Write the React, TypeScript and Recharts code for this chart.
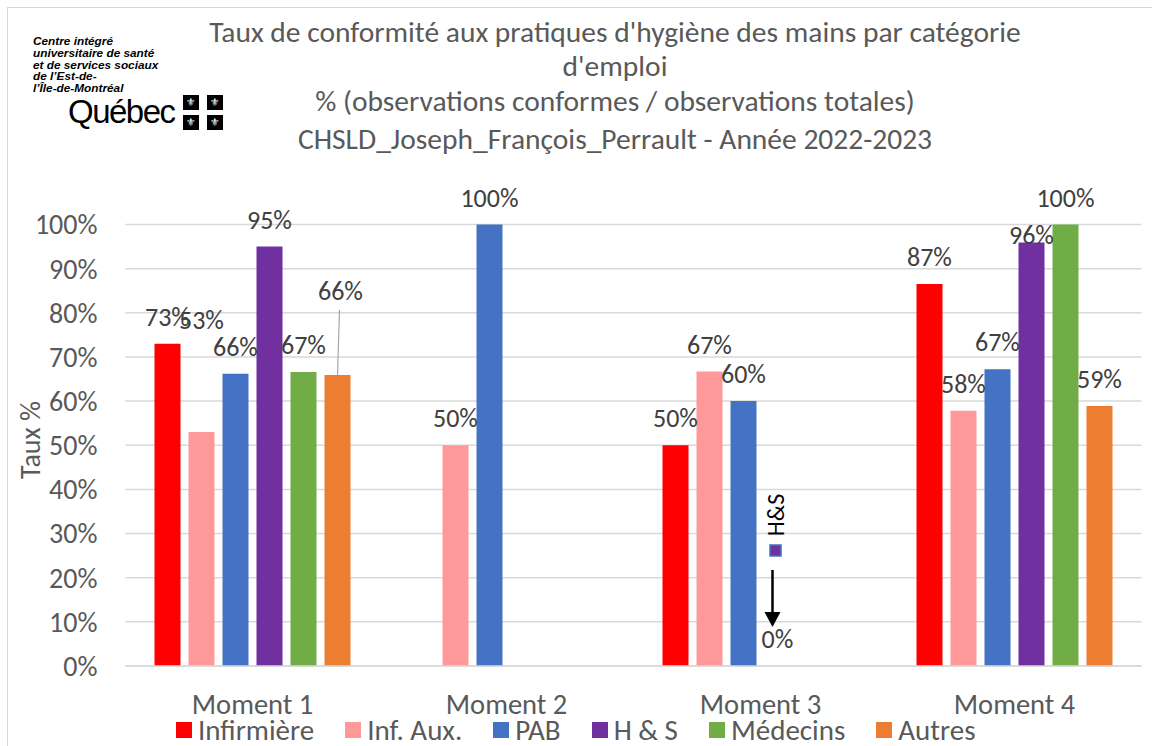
import React from "react";
import {
  Bar,
  BarChart,
  CartesianGrid,
  LabelList,
  Legend,
  XAxis,
  YAxis,
} from "recharts";

const moments = ["Moment 1", "Moment 2", "Moment 3", "Moment 4"];
const infirmiere = [73.0, null, 50.0, 86.5];
const infAux = [53.0, 50.0, 66.7, 57.8];
const pab = [66.2, 100, 60.0, 67.2];
const hs = [95.0, null, 0, 95.9];
const medecins = [66.6, null, null, 100];
const autres = [65.9, null, null, 58.9];
const yTicks = [0, 10, 20, 30, 40, 50, 60, 70, 80, 90, 100];

const titleLines = [
  "Taux de conformité aux pratiques d'hygiène des mains par catégorie",
  "d'emploi",
  "% (observations conformes / observations totales)",
  "CHSLD_Joseph_François_Perrault - Année 2022-2023",
];
const logoLines = [
  "Centre intégré",
  "universitaire de santé",
  "et de services sociaux",
  "de l’Est-de-",
  "l’Île-de-Montréal",
];

const series = [
  { key: "inf", name: "Infirmière", values: infirmiere, color: "#ff0000" },
  { key: "aux", name: "Inf. Aux.", values: infAux, color: "#ff9999" },
  { key: "pab", name: "PAB", values: pab, color: "#4472c4" },
  { key: "hs", name: "H & S", values: hs, color: "#7030a0" },
  { key: "med", name: "Médecins", values: medecins, color: "#70ad47" },
  { key: "aut", name: "Autres", values: autres, color: "#ed7d31" },
];

const data = moments.map((m, i) => {
  const row: Record<string, any> = { moment: m };
  series.forEach((s) => (row[s.key] = s.values[i]));
  return row;
});

// labels Excel moved by hand (dx, dy from default spot), keyed by moment
const nudges: Record<string, Record<string, [number, number]>> = {
  aux: { "Moment 1": [0, -85] },
  aut: { "Moment 1": [3, -57] },
  hs: { "Moment 4": [0, 19] },
};

const FONT = "Carlito, Calibri, Lato, sans-serif";

function makeLabel(key: string) {
  const shown = moments.filter((_, i) => series.find((s) => s.key === key)!.values[i] != null);
  return (props: any) => {
    const { x, y, width, value, index } = props;
    if (value == null) return null;
    const v = typeof value === "object" ? value.v : value;
    if (v == null) return null;
    const m =
      (typeof value === "object" && value.m) ||
      props.payload?.moment ||
      shown[index] ||
      "";
    const [dx, dy] = nudges[key]?.[m] ?? [0, 0];
    const cx = Number(x) + Number(width) / 2;
    const cy = Number(y) - 27 + dy;
    const text = (
      <text
        x={cx + dx}
        y={cy + 9}
        textAnchor="middle"
        fontSize={26}
        fill="#404040"
        fontFamily={FONT}
      >
        {`${Math.round(Number(v))}%`}
      </text>
    );
    if (key === "aut" && m === "Moment 1") {
      return (
        <g>
          <line x1={cx + 2} y1={cy + 19} x2={cx} y2={Number(y)} stroke="#a6a6a6" strokeWidth={1.2} />
          {text}
        </g>
      );
    }
    if (key === "hs" && Number(v) === 0) {
      // the little H&S marker + arrow Excel had pointing at the empty bar
      const base = Number(y);
      return (
        <g>
          {text}
          <rect x={cx - 7.5} y={base - 121} width={11} height={11} fill="#7030a0" stroke="#4472c4" strokeWidth={1.5} />
          <line x1={cx - 5} y1={base - 96} x2={cx - 5} y2={base - 52} stroke="#000" strokeWidth={2.5} />
          <polygon points={`${cx - 13},${base - 54} ${cx + 3},${base - 54} ${cx - 5},${base - 39}`} fill="#000" />
          <text
            x={cx - 2}
            y={base - 151}
            transform={`rotate(-90 ${cx - 2} ${base - 151})`}
            textAnchor="middle"
            dominantBaseline="central"
            fontSize={24}
            fill="#000"
            fontFamily={FONT}
          >
            H&amp;S
          </text>
        </g>
      );
    }
    return text;
  };
}

function LegendContent() {
  return (
    <div
      style={{
        display: "flex",
        justifyContent: "center",
        paddingLeft: 10,
        height: 32,
        lineHeight: "32px",
        alignItems: "center",
        fontFamily: FONT,
        fontSize: 29,
        color: "#595959",
        gap: 31,
      }}
    >
      {series.map((s) => (
        <div key={s.key} style={{ display: "flex", alignItems: "center", height: 32 }}>
          <span style={{ width: 16, height: 16, background: s.color, marginRight: 6, display: "inline-block" }} />
          <span>{s.name}</span>
        </div>
      ))}
    </div>
  );
}

function Fleur({ x, y }: { x: number; y: number }) {
  return (
    <div
      style={{
        position: "absolute",
        left: x,
        top: y,
        width: 16,
        height: 15,
        background: "#000",
        color: "#fff",
        fontSize: 11,
        lineHeight: "15px",
        textAlign: "center",
        fontFamily: "DejaVu Sans",
      }}
    >
      ⚜
    </div>
  );
}

export default function App() {
  const lineTops = [32, 66, 101, 139];
  return (
    <div
      style={{
        position: "absolute",
        left: 0,
        top: 0,
        width: 1152,
        height: 746,
        background: "#fff",
        overflow: "hidden",
      }}
    >
      <div
        style={{
          position: "absolute",
          left: 7,
          top: 7,
          width: 1160,
          height: 760,
          borderLeft: "1.5px solid #d9d9d9",
          borderTop: "1.5px solid #d9d9d9",
        }}
      />
      <div
        style={{
          position: "absolute",
          left: 33,
          top: 36,
          fontFamily: "Liberation Sans, Arial, sans-serif",
          fontWeight: 700,
          fontStyle: "italic",
          fontSize: 11.8,
          lineHeight: "11.8px",
          color: "#000",
        }}
      >
        {logoLines.map((l) => (
          <div key={l}>{l}</div>
        ))}
      </div>
      <div
        style={{
          position: "absolute",
          left: 68,
          top: 92,
          fontFamily: "Liberation Sans, Arial, sans-serif",
          fontSize: 33,
          lineHeight: "40px",
          letterSpacing: -1.5,
          color: "#000",
        }}
      >
        Québec
      </div>
      <Fleur x={183} y={95} />
      <Fleur x={207} y={95} />
      <Fleur x={183} y={115} />
      <Fleur x={207} y={115} />
      {titleLines.map((t, i) => (
        <div
          key={t}
          style={{
            position: "absolute",
            left: 0,
            width: 1230,
            top: lineTops[i] - 18,
            height: 36,
            lineHeight: "36px",
            textAlign: "center",
            fontFamily: FONT,
            fontSize: 29.5,
            color: "#595959",
          }}
        >
          {t}
        </div>
      ))}
      <div style={{ position: "absolute", left: 0, top: 0 }}>
        <BarChart
          width={1152}
          height={746}
          data={data}
          margin={{ top: 224.5, right: 10.5, bottom: 0, left: 0 }}
          barGap={8}
          style={{ fontFamily: FONT }}
        >
          <CartesianGrid vertical={false} stroke="#d9d9d9" strokeWidth={1.5} />
          <XAxis
            dataKey="moment"
            height={48}
            tickLine={false}
            tickSize={0}
            tickMargin={28}
            axisLine={{ stroke: "#d9d9d9", strokeWidth: 1.5 }}
            tick={{ fill: "#595959", fontSize: 28.5, fontFamily: FONT }}
          />
          <YAxis
            width={125.5}
            domain={[0, 100]}
            ticks={yTicks}
            tickFormatter={(v) => `${v}%`}
            axisLine={false}
            tickLine={false}
            tickSize={0}
            tickMargin={28}
            tick={{ fill: "#595959", fontSize: 28, fontFamily: FONT }}
            label={{
              value: "Taux %",
              content: () => (
                <text
                  x={30}
                  y={440}
                  transform="rotate(-90 30 440)"
                  textAnchor="middle"
                  dominantBaseline="central"
                  fill="#595959"
                  fontSize={28}
                  fontFamily={FONT}
                >
                  Taux %
                </text>
              ),
            }}
          />
          <Legend verticalAlign="bottom" height={32} content={<LegendContent />} />
          {series.map((s) => (
            <Bar
              key={s.key}
              dataKey={s.key}
              name={s.name}
              fill={s.color}
              barSize={26}
              minPointSize={0.01}
              isAnimationActive={false}
            >
              <LabelList
                valueAccessor={(entry: any) => ({
                  v: entry?.payload ? entry.payload[s.key] : entry?.value,
                  m: entry?.payload?.moment,
                })}
                content={makeLabel(s.key)}
              />
            </Bar>
          ))}
        </BarChart>
      </div>
    </div>
  );
}
